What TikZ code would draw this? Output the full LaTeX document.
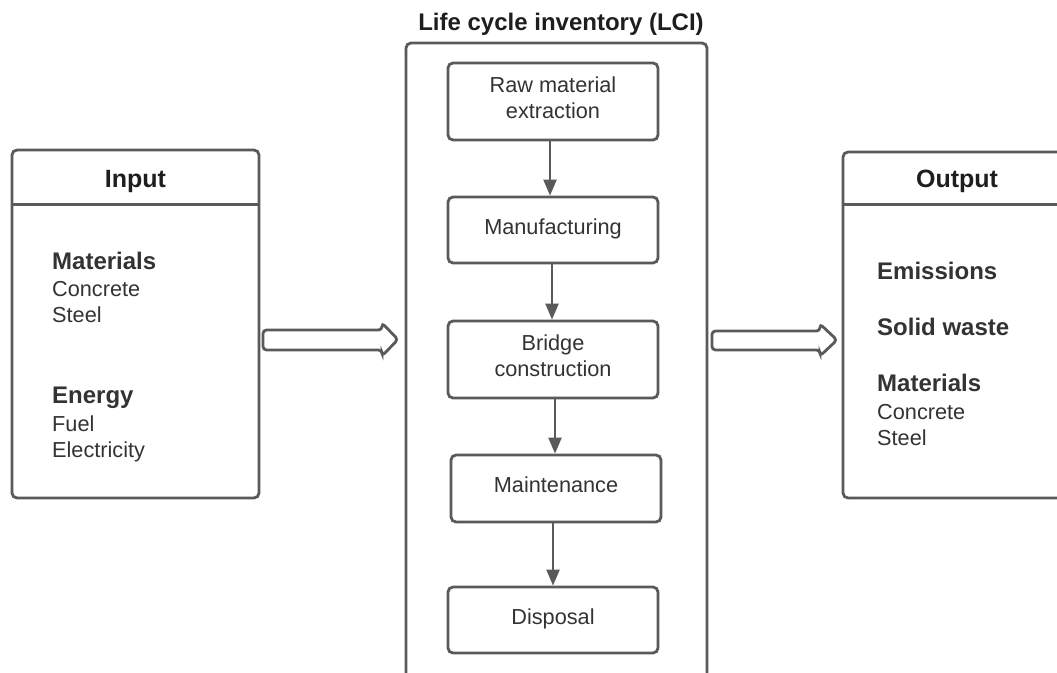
\documentclass[tikz,border=0pt]{standalone}
\usepackage{fontspec}
\setmainfont{Liberation Sans}
\usetikzlibrary{arrows.meta,calc}

\definecolor{edge}{HTML}{5A5A5A}
\definecolor{ink}{HTML}{333333}
\definecolor{headink}{HTML}{1E1E1E}

\newcommand{\regtext}{\fontsize{21.7}{26}\selectfont\color{ink}}
\newcommand{\itemhead}{\fontsize{24}{28}\selectfont\bfseries\color{ink}}
\newcommand{\panelhead}{\fontsize{25}{30}\selectfont\bfseries\color{headink}}

\begin{document}
\begin{tikzpicture}[x=1pt,y=-1pt,
  panel/.style={draw=edge,line width=2.8pt,rounded corners=5pt,inner sep=0pt,fill=white},
  stage/.style={draw=edge,line width=2.8pt,rounded corners=5pt,inner sep=0pt,
    minimum width=210pt,align=center,text depth=7pt,font=\regtext},
  flow/.style={draw=edge,line width=2.2pt,-{Triangle[width=13pt,length=16pt]}},
  bigarrow/.style={draw=edge,line width=2.8pt,rounded corners=3.5pt,fill=white},
  entry/.style={anchor=base west,inner sep=0pt},
  heading/.style={anchor=base,inner sep=0pt}]

\useasboundingbox (0,0) rectangle (1057,672);
\clip (0,0) rectangle (1057,672);
\fill[white] (0,0) rectangle (1057,672);

% Input panel
\node[panel,minimum width=247pt,minimum height=348pt] (input) at (135.5,324) {};
\draw[edge,line width=2.8pt] ($(input.north west)+(0,56)$) -- ($(input.north east)+(0,56)$);
\node[heading,font=\panelhead] (inputtitle) at (135.5,187) {Input};
\node[entry,font=\itemhead] (inmat) at (52,269) {Materials};
\node[entry,font=\regtext] (inconc) at (52,296) {Concrete};
\node[entry,font=\regtext] (insteel) at (52,322) {Steel};
\node[entry,font=\itemhead] (inenergy) at (52,403) {Energy};
\node[entry,font=\regtext] (infuel) at (52,431) {Fuel};
\node[entry,font=\regtext] (inelec) at (52,457) {Electricity};

% Life cycle inventory panel
\node[panel,minimum width=301pt,minimum height=657pt] (lci) at (556.5,371.5) {};
\node[heading,font=\fontsize{24}{28}\selectfont\bfseries\color{headink}] (lcititle) at (561,30) {Life cycle inventory (LCI)};

\node[stage,minimum height=77pt] (raw) at (553,101.5) {Raw material\\extraction};
\node[stage,minimum height=66pt] (manu) at (553,230) {Manufacturing};
\node[stage,minimum height=77pt] (bridge) at (553,359.5) {Bridge\\construction};
\node[stage,minimum height=67pt] (maint) at (556,488.5) {Maintenance};
\node[stage,minimum height=66pt] (disp) at (553,620) {Disposal};

\draw[flow] ([xshift=-3pt]raw.south) -- ([xshift=-3pt]raw.south |- manu.north);
\draw[flow] ([xshift=-1pt]manu.south) -- ([xshift=-1pt]manu.south |- bridge.north);
\draw[flow] ([xshift=2pt]bridge.south) -- ([xshift=2pt]bridge.south |- maint.north);
\draw[flow] ([xshift=-3pt]maint.south) -- ([xshift=-3pt]maint.south |- disp.north);

% Output panel
\node[panel,minimum width=228pt,minimum height=346pt] (output) at (957,325) {};
\draw[edge,line width=2.8pt] ($(output.north west)+(0,54)$) -- ($(output.north east)+(0,54)$);
\node[heading,font=\panelhead] (outputtitle) at (957,187) {Output};
\node[entry,font=\itemhead] (outemis) at (877,279) {Emissions};
\node[entry,font=\itemhead] (outwaste) at (877,335) {Solid waste};
\node[entry,font=\itemhead] (outmat) at (877,391) {Materials};
\node[entry,font=\regtext] (outconc) at (877,419) {Concrete};
\node[entry,font=\regtext] (outsteel) at (877,445) {Steel};

% Hollow block arrows between the panels
\draw[bigarrow] (263,330) -- (382,330) -- (382,323) -- (398,339.5) -- (382,356) -- (382,350) -- (263,350) -- cycle;
\draw[bigarrow] (712,331) -- (820,331) -- (820,324) -- (837,340) -- (820,356) -- (820,350) -- (712,350) -- cycle;

\end{tikzpicture}
\end{document}
